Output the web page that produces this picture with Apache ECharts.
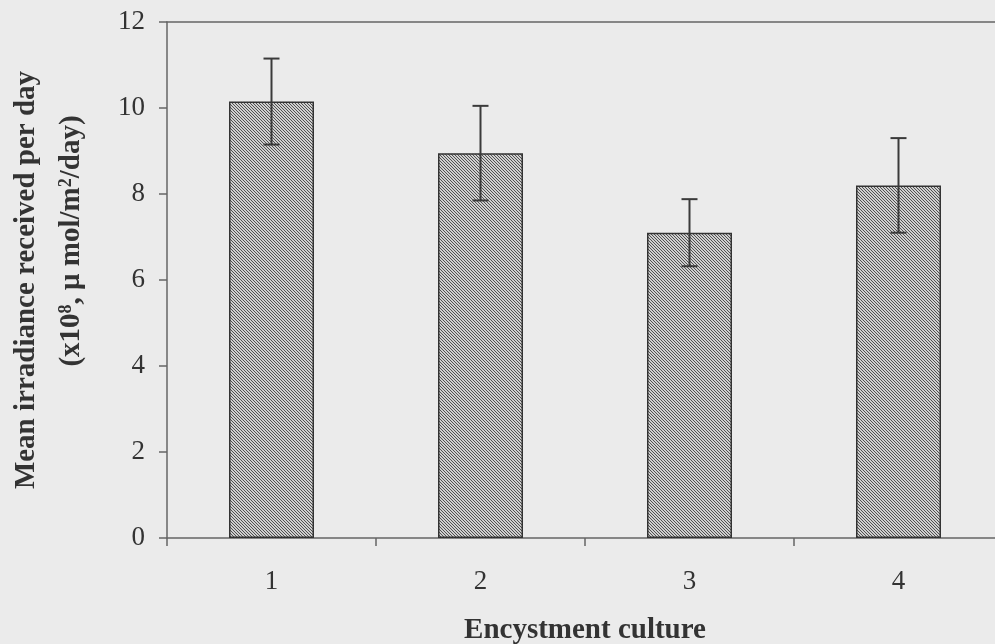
<!DOCTYPE html>
<html>
<head>
<meta charset="utf-8">
<script src="https://cdn.jsdelivr.net/npm/echarts@6/dist/echarts.min.js"></script>
<style>
  html, body { margin: 0; padding: 0; background: #ebebeb; }
  #chart { width: 995px; height: 644px; }
</style>
</head>
<body>
<div id="chart"></div>
<script>
// data
var categories = ['1', '2', '3', '4'];
var meanValues = [10.15, 8.95, 7.1, 8.2];
var errValues = [1.0, 1.1, 0.78, 1.1];
var yTickMin = 0, yTickMax = 12, yTickStep = 2;

// hatch fill (\\\ stripes) for the bars
function makeHatch() {
	var c = document.createElement('canvas');
	c.width = 3; c.height = 3;
	var ctx = c.getContext('2d');
	ctx.fillStyle = '#cfcfcf';
	ctx.fillRect(0, 0, 3, 3);
	ctx.fillStyle = '#505050';
	for (var i = 0; i < 3; i++) {
		ctx.fillRect(i, i, 1, 1);
	}
	return c;
}

var errData = meanValues.map(function (v, i) {
	return [i, v - errValues[i], v + errValues[i]];
});

var serif = '"Liberation Serif", "DejaVu Serif", serif';
var axisColor = '#666';

var chart = echarts.init(document.getElementById('chart'));
chart.setOption({
	backgroundColor: '#ebebeb',
	animation: false,
	grid: { left: 167, right: -8, top: 22, bottom: 106, outerBoundsMode: 'none', containLabel: false },
	xAxis: [{
		type: 'category',
		data: categories,
		axisLine: { lineStyle: { color: axisColor, width: 1.5 } },
		axisTick: { show: true, length: 8, inside: false, lineStyle: { color: axisColor, width: 1.5 } },
		axisLabel: { fontFamily: serif, fontSize: 27, color: '#333', margin: 30 },
		name: 'Encystment culture',
		nameLocation: 'middle',
		nameGap: 78,
		nameTextStyle: { fontFamily: serif, fontSize: 29, fontWeight: 'bold', color: '#333', padding: [0, 0, 0, 0] }
	}, {
		// top frame line
		type: 'category',
		position: 'top',
		data: categories,
		axisLine: { lineStyle: { color: axisColor, width: 1.5 } },
		axisTick: { show: false },
		axisLabel: { show: false }
	}],
	yAxis: {
		type: 'value',
		min: yTickMin,
		max: yTickMax,
		interval: yTickStep,
		axisLine: { show: true, lineStyle: { color: axisColor, width: 1.5 } },
		axisTick: { show: true, length: 8, lineStyle: { color: axisColor, width: 1.5 } },
		splitLine: { show: false },
		axisLabel: { fontFamily: serif, fontSize: 27, color: '#333', margin: 22 },
		name: 'Mean irradiance received per day',
		nameLocation: 'middle',
		nameGap: 126,
		nameTextStyle: { fontFamily: serif, fontSize: 29, fontWeight: 'bold', color: '#333' }
	},
	graphic: [{
		type: 'text',
		x: 72,
		y: 241,
		rotation: Math.PI / 2,
		style: {
			text: '(x10{s|8}, μ mol/m{s|2}/day)',
			font: 'bold 29px ' + serif,
			fill: '#333',
			align: 'center',
			verticalAlign: 'middle',
			rich: {
				s: { fontSize: 18, fontWeight: 'bold', fontFamily: serif, verticalAlign: 'top', lineHeight: 18, padding: [0, 0, 16, 0] }
			}
		}
	}],
	series: [{
		type: 'bar',
		data: meanValues,
		barWidth: 85,
		itemStyle: {
			color: { image: makeHatch(), repeat: 'repeat' },
			borderColor: '#333',
			borderWidth: 1.5
		}
	}, {
		type: 'custom',
		data: errData,
		z: 10,
		renderItem: function (params, api) {
			var x = api.value(0);
			var lo = api.coord([x, api.value(1)]);
			var hi = api.coord([x, api.value(2)]);
			var w = 8;
			var style = { stroke: '#3a3a3a', lineWidth: 2 };
			return {
				type: 'group',
				children: [
					{ type: 'line', shape: { x1: hi[0], y1: hi[1], x2: lo[0], y2: lo[1] }, style: style },
					{ type: 'line', shape: { x1: hi[0] - w, y1: hi[1], x2: hi[0] + w, y2: hi[1] }, style: style },
					{ type: 'line', shape: { x1: lo[0] - w, y1: lo[1], x2: lo[0] + w, y2: lo[1] }, style: style }
				]
			};
		}
	}]
});
</script>
</body>
</html>
